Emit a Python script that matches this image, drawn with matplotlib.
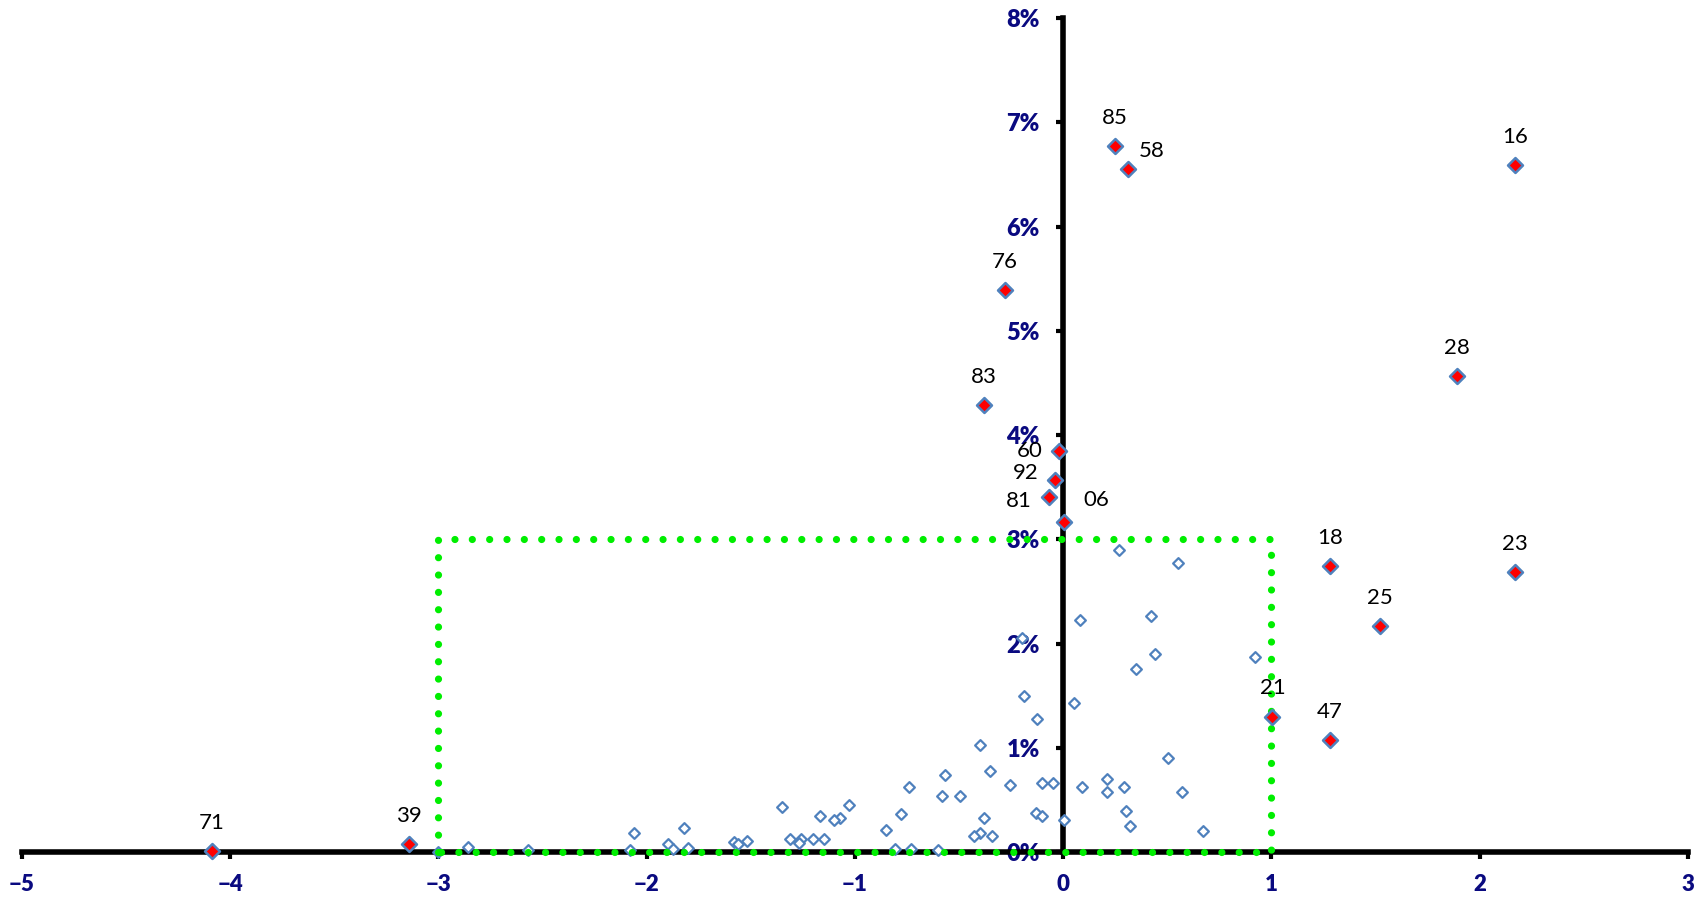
import matplotlib.pyplot as plt
from matplotlib.ticker import FuncFormatter

# labelled points (x, y in %)
lab_names = ["71", "39", "85", "58", "16", "76", "28", "83", "60", "92", "81", "06",
             "18", "23", "25", "21", "47"]
lab_x = [-4.09, -3.14, 0.25, 0.31, 2.17, -0.28, 1.89, -0.38, -0.02, -0.04, -0.07, 0.005,
         1.28, 2.17, 1.52, 1.005, 1.28]
lab_y = [0.01, 0.08, 6.77, 6.55, 6.59, 5.39, 4.57, 4.29, 3.85, 3.57, 3.41, 3.17,
         2.74, 2.69, 2.17, 1.30, 1.07]

# unlabelled points
pts_x = [0.27, 0.55, 0.08, 0.42, -0.20, 0.44, 0.35, 0.92, -0.19, 0.05, -0.125, -0.40,
         0.505, -0.35, -0.57, -0.74, -0.255, -0.10, -0.05, 0.09, 0.21, 0.21, 0.29, 0.57,
         -0.58, -0.495, -1.03, -1.35, -1.07, -1.10, -1.17, -0.78, -0.38, -0.13, -0.10,
         0.30, 0.005, 0.32, -0.85, 0.67, -2.06, -1.82, -0.40, -0.43, -0.34, -1.52, -1.58,
         -1.56, -1.31, -1.26, -1.27, -1.20, -1.15, -1.90, -1.875, -1.80, -2.08, -2.86,
         -2.57, -0.81, -0.73, -0.60, -3.0]
pts_y = [2.90, 2.77, 2.23, 2.26, 2.05, 1.90, 1.76, 1.87, 1.50, 1.43, 1.28, 1.03,
         0.90, 0.78, 0.74, 0.62, 0.64, 0.66, 0.66, 0.62, 0.70, 0.58, 0.62, 0.58,
         0.54, 0.54, 0.45, 0.43, 0.33, 0.31, 0.35, 0.36, 0.33, 0.375, 0.35,
         0.39, 0.31, 0.25, 0.21, 0.20, 0.18, 0.23, 0.18, 0.15, 0.15, 0.11, 0.10,
         0.08, 0.125, 0.125, 0.09, 0.125, 0.125, 0.08, 0.03, 0.04, 0.02, 0.05,
         0.02, 0.03, 0.03, 0.02, 0.0]

# green box corners
box_x = [-3, -3, 1, 1, -3]
box_y = [0, 3, 3, 0, 0]

# label offsets in points (dx, dy)
offsets = {"58": (8, 6), "60": (-12, 0), "92": (-12, 5), "81": (-12, -3), "06": (14, 8)}

plt.rcParams['font.family'] = ['Lato', 'DejaVu Sans']
navy = '#0a0a80'
blue = '#4f81bd'

fig = plt.figure(figsize=(17.06, 9.02), dpi=100)
ax = fig.add_axes([0.0129, 0.0554, 0.9765, 0.9246])

ax.plot(box_x, box_y, color='#00ee00', lw=5.2, linestyle=(0, (0.001, 2.4)),
        dash_capstyle='round', zorder=5, clip_on=False)

ax.scatter(pts_x, pts_y, marker='D', s=30, facecolor='white', edgecolor=blue,
           linewidth=1.6, zorder=4, clip_on=False)
ax.scatter(lab_x, lab_y, marker='D', s=58, facecolor='red', edgecolor=blue,
           linewidth=1.8, zorder=6, clip_on=False)

for n, x, y in zip(lab_names, lab_x, lab_y):
    dx, dy = offsets.get(n, (0, 13))
    ha = 'center'
    va = 'bottom'
    if dx < 0:
        ha = 'right'
        va = 'center'
    elif dx > 0:
        ha = 'left'
        va = 'bottom'
    ax.annotate(n, (x, y), xytext=(dx, dy), textcoords='offset points',
                ha=ha, va=va, fontsize=16, color='black', zorder=7)

ax.set_xlim(-5, 3)
ax.set_ylim(0, 8)
ax.set_xticks(range(-5, 4))
ax.set_yticks(range(0, 9))
ax.yaxis.set_major_formatter(FuncFormatter(lambda v, p: '%d%%' % v))

ax.spines['top'].set_visible(False)
ax.spines['right'].set_visible(False)
ax.spines['left'].set_position(('data', 0))
ax.spines['left'].set_linewidth(4)
ax.spines['bottom'].set_linewidth(4)

ax.tick_params(axis='x', direction='out', length=5, width=3, pad=11,
               labelsize=16, labelcolor=navy)
ax.tick_params(axis='y', direction='out', length=5, width=3, pad=12,
               labelsize=17, labelcolor=navy)
for lbl in ax.get_xticklabels() + ax.get_yticklabels():
    lbl.set_fontweight('heavy')

plt.savefig('out.png', dpi=100)
